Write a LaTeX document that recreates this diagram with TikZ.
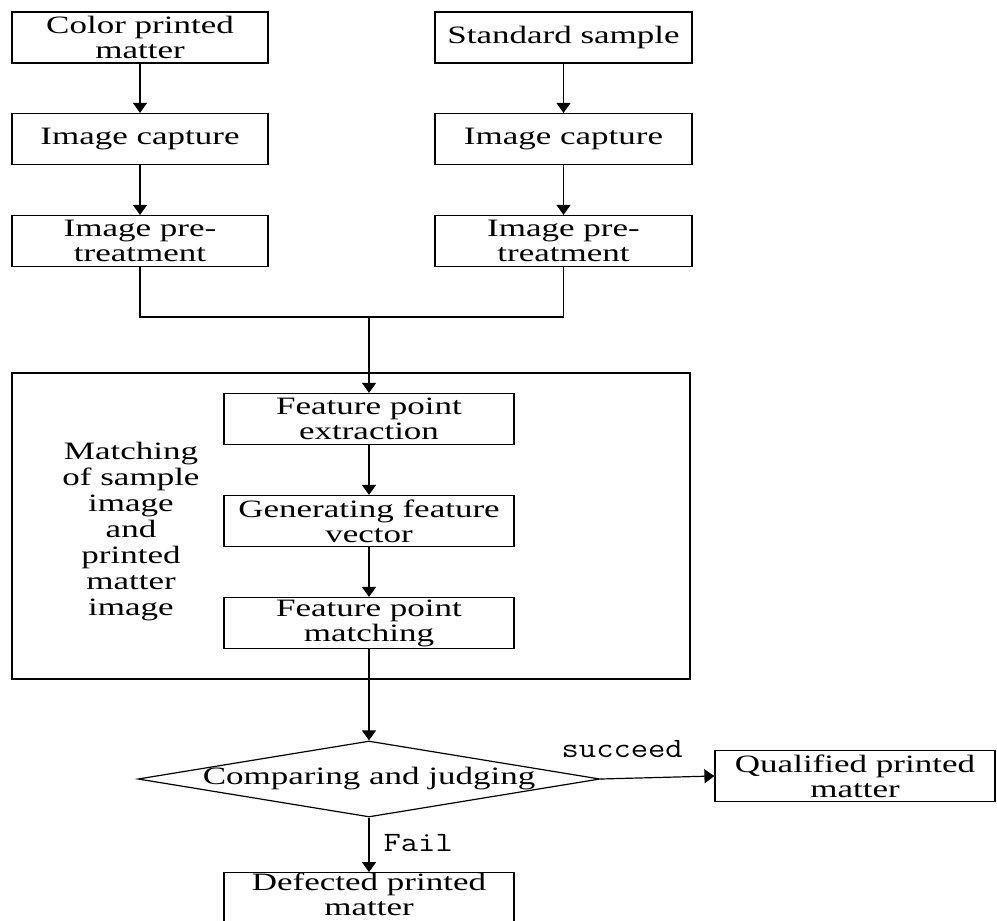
\documentclass[tikz,border=0pt]{standalone}
\usepackage{fontspec}
\setmainfont[FakeStretch=1.4]{Liberation Serif}
\setmonofont[FakeStretch=1.2]{Latin Modern Mono}
\usetikzlibrary{positioning,arrows.meta,shapes.geometric}
\definecolor{pmpreto}{HTML}{000000}
\tikzset{
  pmbox/.style={draw=pmpreto, line width=0.6pt, align=center, inner sep=0pt,
                font=\fontsize{12.5}{12.5}\selectfont, minimum width=128pt, minimum height=25.5pt},
  pmboxlargo/.style={pmbox, minimum width=145pt},
  pmmoldura/.style={draw=pmpreto, line width=0.6pt, inner sep=0pt, minimum width=339pt, minimum height=153pt},
  pmdecisao/.style={draw=pmpreto, line width=0.6pt, diamond, inner sep=0pt, minimum width=231pt, minimum height=38pt},
  pmseta/.style={-{Triangle[length=5pt,width=7pt]}, line width=0.6pt, draw=pmpreto},
  pmlinha/.style={line width=0.6pt, draw=pmpreto},
  pmrotulo/.style={font=\ttfamily\fontsize{14}{14}\selectfont, inner sep=0pt},
  pmtexto/.style={font=\fontsize{12.5}{13}\selectfont, align=center, inner sep=0pt},
}
\begin{document}
\begin{tikzpicture}[x=0.5pt, y=-0.5pt]
        \useasboundingbox (0,0) rectangle (997,921);
        % ---------------- colunas de entrada ----------------
        \node[pmbox] (c1) at (140,37.5) {Color printed\\ matter};
        \node[pmbox] (c2) at (140,139) {Image capture};
        \node[pmbox] (c3) at (140,241) {Image pre-\\ treatment};
        \node[pmbox, minimum width=128.5pt] (s1) at (563.5,37.5) {Standard sample};
        \node[pmbox, minimum width=128.5pt] (s2) at (563.5,139) {Image capture};
        \node[pmbox, minimum width=128.5pt] (s3) at (563.5,241) {Image pre-\\ treatment};
        \coordinate (junta) at (369,317);
        % ---------------- casamento ----------------
        \node[pmmoldura] (moldura) at (351,526) {};
        \node[pmtexto] (casam) at (131,532) {Matching\\ of sample\\ image\\ and\\ printed\\ matter\\ image};
        \node[pmboxlargo] (f1) at (369,419) {Feature point\\ extraction};
        \node[pmboxlargo] (f2) at (369,521) {Generating feature\\ vector};
        \node[pmboxlargo] (f3) at (369,623) {Feature point\\ matching};
        % ---------------- decisao ----------------
        \node[pmdecisao] (comp) at (369,779) {};
        \node[pmtexto] (comptxt) at (comp) {Comparing and judging};
        \node[pmbox, minimum width=140pt] (qual) at (855,776) {Qualified printed\\ matter};
        \node[pmboxlargo, minimum height=27pt, text depth=6pt] (defe) at (369,900) {Defected printed\\ matter};
        % ---------------- setas ----------------
        \draw[pmseta] (c1) -- (c2);
        \draw[pmseta] (c2) -- (c3);
        \draw[pmseta] (s1) -- (s2);
        \draw[pmseta] (s2) -- (s3);
        \draw[pmlinha] (c3.south) |- (junta) -| (s3.south);
        \draw[pmseta] (junta) -- (f1);
        \draw[pmseta] (f1) -- (f2);
        \draw[pmseta] (f2) -- (f3);
        \draw[pmseta] (f3) -- (comp);
        \draw[pmseta] (comp.east) -- node[pmrotulo, pos=0.19, above=10pt] {succeed} (qual.west);
        \draw[pmseta] (comp.south) -- node[pmrotulo, pos=0.46, right=7pt] {Fail} (defe.north);
    \end{tikzpicture}
\end{document}
